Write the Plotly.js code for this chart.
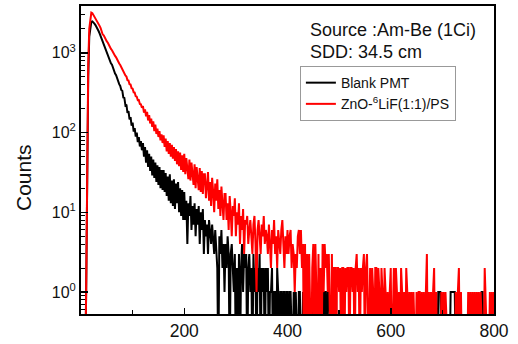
<!DOCTYPE html>
<html><head><meta charset="utf-8">
<script src="https://cdn.plot.ly/plotly-3.0.1.min.js"></script>
<style>html,body{margin:0;padding:0;background:#fff;}#chart{width:518px;height:344px;}</style>
</head><body><div id="chart"></div>
<script>
// Channel spacing of the sampled spectrum (channels 0, 2, 4, ...)
const CHANNEL_STEP = 2;

// Blank PMT counts, one value per sampled channel (20 values = 40 channels per row)
const blankPMT = [
  0,0,0,0,0,1,30,500,1600,2200,2450,2480,2420,2330,2230,2130,2010,1880,1750,1620,
  1460,1340,1260,1150,1090,990,940,855,815,740,710,640,610,550,525,470,450,405,385,342,
  335,275,272,220,225,176,186,146,156,122,133,103,114,89,100,76,88,67,78,60,
  74,50,66,42,60,37,54,33,50,29,46,27,42,24,39,22,37,20,34,19,
  34,18,31,16,28,14,30,13,25,12,26,11,23,13,24,10,20,9,19,8,
  18,8,14,4,13,9,16,6,12,7,13,5,11,7,12,4,10,6,11,3,
  8,5,7,3,8,6,4,7,5,3,6,4,2,0,5,3,6,2,4,1,
  4,2,5,3,0,3,4,2,1,3,0,2,0,3,0,2,4,1,3,2,
  3,0,2,3,1,2,0,3,1,2,0,2,1,3,0,2,1,2,0,2,
  1,2,0,1,1,2,0,1,1,0,2,1,0,1,1,0,1,1,0,1,
  1,0,1,1,0,0,1,0,1,0,0,1,1,0,0,1,0,0,0,1,
  0,0,0,0,1,0,0,0,0,0,0,0,0,0,1,0,1,1,0,1,
  1,0,0,0,0,0,1,1,0,0,0,0,0,0,0,0,0,0,0,0,
  0,0,0,0,0,0,0,0,0,0,0,0,0,0,0,0,0,0,0,0,
  0,0,0,0,0,0,0,0,0,0,0,0,0,0,0,0,0,0,0,0,
  0,0,0,0,0,0,0,0,0,0,0,0,0,0,0,0,0,0,0,0,
  0,0,0,0,0,0,0,0,0,0,0,0,0,0,0,0,0,0,0,0,
  0,0,0,0,0,0,1,1,1,0,0,0,0,0,0,0,0,0,1,1,
  1,1,1,0,0,0,0,0,0,0,0,0,0,0,0,0,0,0,0,0,
  0,0,0,0,0,0,0,0,1,1,0,0,0,0,0,0,0,0,0,0
];

// ZnO-6LiF(1:1)/PS counts, same channel sampling
const znoLiF = [
  0,0,0,0,0,1,40,700,2000,2800,3200,3150,3000,2870,2720,2600,2450,2320,2180,2050,
  1790,1700,1660,1550,1500,1390,1340,1250,1210,1120,1080,1010,970,915,880,820,790,735,705,660,
  640,585,570,520,505,455,450,405,400,360,355,320,318,285,282,255,256,228,226,205,
  215,178,196,160,182,142,165,130,150,118,138,104,126,96,112,88,104,80,95,74,
  92,66,84,58,78,54,74,50,70,47,66,44,62,40,58,38,56,34,52,32,
  54,30,48,34,26,46,25,42,30,22,40,20,37,28,19,36,18,33,17,30,
  30,15,26,32,14,24,12,27,18,10,23,14,26,11,19,9,21,13,8,17,
  17,8,13,6,16,10,5,12,9,15,5,10,7,13,4,9,6,11,3,8,
  7,9,4,6,8,5,3,7,9,4,1,6,8,5,3,7,5,9,4,6,
  5,3,7,4,2,6,4,8,3,5,2,6,4,3,6,8,4,2,5,3,
  6,3,5,6,2,4,3,1,3,2,5,6,3,6,2,4,0,4,0,3,
  0,3,1,0,2,4,0,4,1,0,3,0,2,0,4,1,4,2,3,1,
  3,1,0,3,0,2,2,0,2,2,1,2,0,2,2,0,2,1,2,2,
  0,2,2,1,2,0,2,3,1,2,0,2,1,2,3,0,2,3,1,0,
  2,0,2,1,0,2,2,0,2,1,0,2,1,0,2,1,0,1,0,1,
  2,0,1,2,0,2,1,0,1,0,2,1,0,1,0,2,1,0,1,0,
  1,0,1,0,0,1,0,1,1,0,1,0,1,0,1,3,0,1,0,1,
  0,1,2,0,1,0,0,0,0,1,0,1,0,1,0,0,0,0,0,0,
  0,0,0,1,0,1,2,0,1,0,0,0,0,0,0,1,0,1,0,1,
  0,1,0,1,0,1,0,1,0,0,0,2,0,0,0,0,1,0,1,0,
  1
];

const seriesNames = ['Blank PMT', 'ZnO-<sup>6</sup>LiF(1:1)/PS'];
const seriesColors = ['#000000', '#ff0000'];

const xTickVals = [200, 400, 600, 800];
const xTickText = ['200', '400', '600', '800'];
const xMinorVals = [100, 300, 500, 700];
const yTickVals = [1, 10, 100, 1000];
const yTickText = ['10<sup>0</sup>', '10<sup>1</sup>', '10<sup>2</sup>', '10<sup>3</sup>'];
const yMinorVals = [];
[0.1, 1, 10, 100, 1000].forEach(d => { for (let m = 2; m <= 9; m++) yMinorVals.push(m * d); });

const annotationTexts = ['Source :Am-Be (1Ci)', 'SDD: 34.5 cm'];
const yTitleText = 'Counts';

// zero counts cannot sit on a log axis: draw them just below the visible range
const ZERO_FLOOR = 0.1;
const channels = arr => arr.map((_, i) => i * CHANNEL_STEP);
const forLog = arr => arr.map(v => (v > 0 ? v : ZERO_FLOOR));

const FONT = '"Liberation Sans", Arial, sans-serif';

const traces = [blankPMT, znoLiF].map((arr, k) => ({
  type: 'scatter', mode: 'lines',
  x: channels(arr), y: forLog(arr),
  name: seriesNames[k],
  line: { color: seriesColors[k], width: 2 },
  hoverinfo: 'skip'
}));

const layout = {
  width: 518, height: 344,
  margin: { l: 81, r: 24, t: 6, b: 30, pad: 0 },
  paper_bgcolor: '#fff', plot_bgcolor: '#fff',
  font: { family: FONT, color: '#111' },
  showlegend: true,
  legend: {
    x: 0.530, y: 0.805, xanchor: 'left', yanchor: 'top',
    bgcolor: '#fff', bordercolor: '#999', borderwidth: 1,
    font: { family: FONT, size: 14, color: '#111' },
    itemwidth: 30, tracegroupgap: 0
  },
  xaxis: {
    range: [0, 800], showgrid: false, zeroline: false,
    showline: true, linecolor: '#000', linewidth: 2, mirror: true,
    ticks: 'inside', ticklen: 6, tickwidth: 1.5, tickcolor: '#000',
    tickmode: 'array', tickvals: xTickVals, ticktext: xTickText,
    minor: { tickmode: 'array', tickvals: xMinorVals, ticks: 'inside', ticklen: 4, tickwidth: 1.5, tickcolor: '#000', showgrid: false },
    tickfont: { family: FONT, size: 17.5, color: '#111' }
  },
  yaxis: {
    type: 'log', range: [Math.log10(0.53), Math.log10(3870)],
    showgrid: false, zeroline: false,
    showline: true, linecolor: '#000', linewidth: 2, mirror: true,
    ticks: 'inside', ticklen: 7, tickwidth: 1.5, tickcolor: '#000',
    tickmode: 'array', tickvals: yTickVals, ticktext: yTickText,
    minor: { tickmode: 'array', tickvals: yMinorVals, ticks: 'inside', ticklen: 4, tickwidth: 1, tickcolor: '#000', showgrid: false },
    tickfont: { family: FONT, size: 16, color: '#111' }
  },
  annotations: [
    { text: annotationTexts[0], xref: 'paper', yref: 'paper', x: 0.5496, y: 0.922, xanchor: 'left', yanchor: 'middle', showarrow: false, font: { family: FONT, size: 18, color: '#111' } },
    { text: annotationTexts[1], xref: 'paper', yref: 'paper', x: 0.5496, y: 0.851, xanchor: 'left', yanchor: 'middle', showarrow: false, font: { family: FONT, size: 18, color: '#111' } },
    { text: yTitleText, xref: 'paper', yref: 'paper', x: -0.138, y: 0.4416, xanchor: 'center', yanchor: 'middle', textangle: -90, showarrow: false, font: { family: FONT, size: 21, color: '#111' } }
  ]
};

Plotly.newPlot('chart', traces, layout, { staticPlot: true, displayModeBar: false });
</script>
</body></html>
